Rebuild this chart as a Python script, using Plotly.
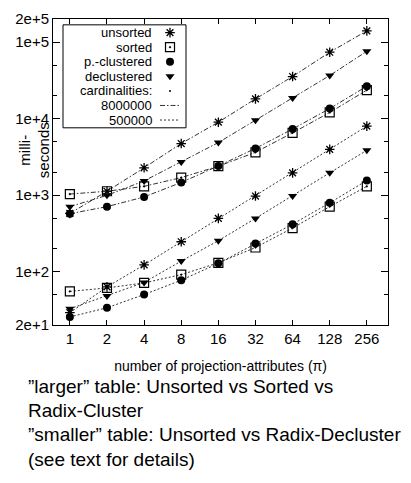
import plotly.graph_objects as go
import math

# ---------------- data ----------------
x_vals = [1, 2, 4, 8, 16, 32, 64, 128, 256]
x_ticktext = ["1", "2", "4", "8", "16", "32", "64", "128", "256"]

# "larger" table, cardinality 8000000 (dash-dot lines)
large_unsorted = [575, 1120, 2270, 4710, 8960, 18070, 35400, 73600, 140000]
large_sorted = [1030, 1120, 1300, 1690, 2380, 3620, 6500, 12000, 23500]
large_pclustered = [570, 705, 944, 1460, 2400, 4070, 7290, 13500, 26400]
large_declustered = [705, 990, 1530, 2700, 4850, 9500, 18600, 36500, 75700]

# "smaller" table, cardinality 500000 (dotted lines)
small_unsorted = [29, 63, 122, 245, 495, 970, 1950, 3950, 7950]
small_sorted = [55, 61, 71, 91, 130, 206, 370, 705, 1300]
small_pclustered = [25.5, 33.6, 50, 77, 128, 232, 416, 790, 1550]
small_declustered = [32.6, 48, 72, 137, 253, 495, 970, 1950, 3840]

y_tickvals = [20, 100, 1000, 10000, 100000, 200000]
y_ticktext = ["2e+1", "1e+2", "1e+3", "1e+4", "1e+5", "2e+5"]

legend_labels = ["unsorted", "sorted", "p.-clustered", "declustered",
                 "cardinalities:", "8000000", "500000"]
caption_lines = ["\u201dlarger\u201d table: Unsorted vs Sorted vs",
                 "Radix-Cluster",
                 "\u201dsmaller\u201d table: Unsorted vs Radix-Decluster",
                 "(see text for details)"]

# ---------------- styles ----------------
FONT = "Liberation Sans, Arial, Helvetica, sans-serif"
LINE_COL = "#333333"
DASHDOT = "5px,2px,1.5px,2px"
DOT = "2px,2px"
sym = {
    "unsorted": dict(symbol="asterisk-open", size=8, line=dict(width=1.3, color="black"), color="black"),
    "sorted": dict(symbol="square-open-dot", size=9, line=dict(width=1.2, color="black"), color="black"),
    "p.-clustered": dict(symbol="circle", size=8, color="black", line=dict(width=0)),
    "declustered": dict(symbol="triangle-down", size=8, color="black", line=dict(width=0)),
}

fig = go.Figure()

series = [
    ("unsorted", large_unsorted, DASHDOT), ("sorted", large_sorted, DASHDOT),
    ("p.-clustered", large_pclustered, DASHDOT), ("declustered", large_declustered, DASHDOT),
    ("unsorted", small_unsorted, DOT), ("sorted", small_sorted, DOT),
    ("p.-clustered", small_pclustered, DOT), ("declustered", small_declustered, DOT),
]
for name, ys, dash in series:
    fig.add_trace(go.Scatter(
        x=x_vals, y=ys, mode="lines+markers", showlegend=False,
        line=dict(color=LINE_COL, width=1, dash=dash),
        marker=sym[name], cliponaxis=False))

# ---------------- plot geometry (pixels) ----------------
W, H = 411, 483
L, R, T, B = 53, 388, 10, 325
pw, ph = R - L, B - T

def fx(px):
    return (px - L) / pw

def fy(py):
    return (B - py) / ph

# ---------------- custom legend (gnuplot style) ----------------
leg_rows = [24 + 15 * i for i in range(len(legend_labels))]
sym_x = fx(170)
for i, lab in enumerate(legend_labels):
    fig.add_annotation(x=fx(153), y=fy(leg_rows[i]), xref="paper", yref="paper",
                       text=lab, showarrow=False, xanchor="right", yanchor="middle",
                       borderpad=0, font=dict(family=FONT, size=13, color="black"))
for i, name in enumerate(["unsorted", "sorted", "p.-clustered", "declustered"]):
    fig.add_trace(go.Scatter(x=[sym_x], y=[fy(leg_rows[i])], xaxis="x2", yaxis="y2",
                             mode="markers", marker=sym[name], showlegend=False,
                             cliponaxis=False))
fig.add_trace(go.Scatter(x=[sym_x], y=[fy(leg_rows[4])], xaxis="x2", yaxis="y2",
                         mode="markers", marker=dict(size=2, color="black"),
                         showlegend=False))
for i, dash in [(5, DASHDOT), (6, DOT)]:
    fig.add_trace(go.Scatter(x=[fx(160), fx(179)], y=[fy(leg_rows[i])] * 2,
                             xaxis="x2", yaxis="y2", mode="lines",
                             line=dict(color=LINE_COL, width=1, dash=dash),
                             showlegend=False))
fig.add_shape(type="rect", xref="paper", yref="paper",
              x0=fx(63), x1=fx(186), y0=fy(122), y1=fy(16),
              line=dict(color="black", width=1), fillcolor="rgba(0,0,0,0)", layer="above")

# ---------------- axes ----------------
fig.update_layout(
    width=W, height=H,
    margin=dict(l=L, r=W - R, t=T, b=H - B, pad=0),
    paper_bgcolor="white", plot_bgcolor="white",
    font=dict(family=FONT, size=15, color="black"),
    xaxis=dict(type="log", range=[math.log10(0.73), math.log10(380)],
               tickvals=x_vals, ticktext=x_ticktext,
               ticks="inside", ticklen=5, tickwidth=1, tickcolor="black",
               showline=True, linecolor="black", linewidth=1, mirror="ticks",
               showgrid=False, zeroline=False,
               tickfont=dict(family=FONT, size=15, color="black"),
               title=dict(text="number of projection-attributes (\u03c0)",
                          font=dict(family=FONT, size=14, color="black"), standoff=15)),
    yaxis=dict(type="log", range=[math.log10(20), math.log10(200000)],
               tickvals=y_tickvals, ticktext=y_ticktext,
               ticks="inside", ticklen=7, tickwidth=1, tickcolor="black",
               showline=True, linecolor="black", linewidth=1, mirror="ticks",
               showgrid=False, zeroline=False,
               tickfont=dict(family=FONT, size=15, color="black"),
               minor=dict(tickvals=[50, 200, 500, 2000, 5000, 20000, 50000],
                          ticks="inside", ticklen=4, tickcolor="black", showgrid=False)),
    xaxis2=dict(overlaying="x", range=[0, 1], visible=False, fixedrange=True),
    yaxis2=dict(overlaying="y", range=[0, 1], visible=False, fixedrange=True),
)

# y-axis title (two lines, rotated)
fig.add_annotation(x=fx(34), y=fy(145), xref="paper", yref="paper",
                   text="milli-<br>seconds", showarrow=False, textangle=-90,
                   xanchor="center", yanchor="middle",
                   font=dict(family=FONT, size=15, color="black"))

# caption below the chart
for i, line in enumerate(caption_lines):
    fig.add_annotation(x=fx(26), y=fy(388 + 25 * i), xref="paper", yref="paper",
                       text=line, showarrow=False, xanchor="left", yanchor="middle",
                       font=dict(family=FONT, size=19, color="black"))

fig.write_html("out.html")
